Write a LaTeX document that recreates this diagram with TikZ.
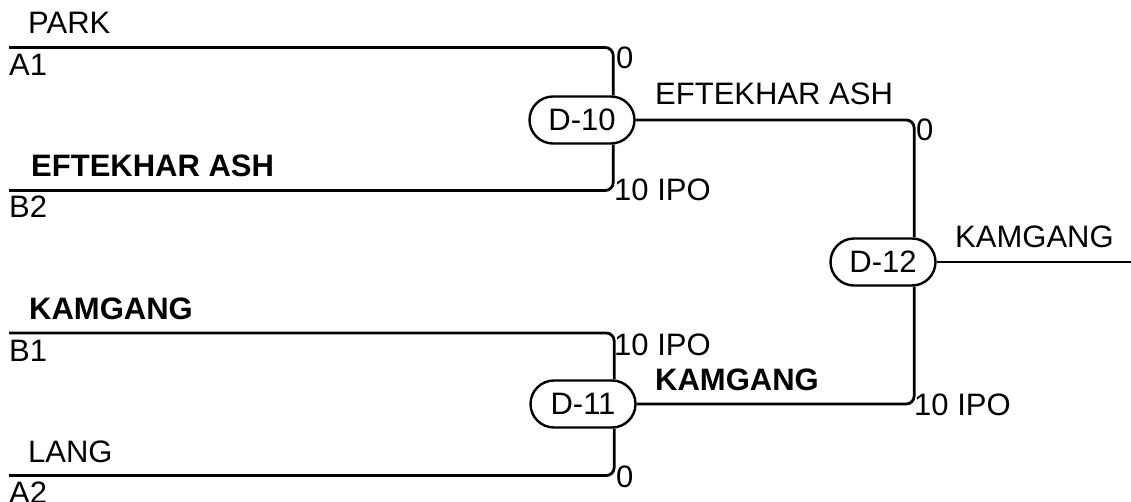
\documentclass[tikz,border=0pt]{standalone}
\usepackage{fontspec}
\setmainfont{Liberation Sans}
\usetikzlibrary{calc}
\begin{document}
\begin{tikzpicture}[x=1pt,y=-1pt,
  wire/.style={line width=2.8pt,rounded corners=8pt},
  match/.style={draw,line width=2.4pt,rounded corners=23.5pt,minimum width=105pt,minimum height=47pt,inner sep=0pt,font=\fontsize{31}{31}\selectfont,fill=white},
  lbl/.style={anchor=base west,inner sep=0pt,font=\fontsize{31}{31}\selectfont},
  blbl/.style={lbl,font=\fontsize{31}{31}\selectfont\bfseries}]
\path[use as bounding box] (0,0) rectangle (1131,502);
% matches
\node[match] (D10) at (582,120) {D-10};
\node[match] (D12) at (883,262) {D-12};
\node[match] (D11) at (583,404) {D-11};
% attachment coordinates
\coordinate (d10t) at ($(D10.north east)+(-22.5,0)$);
\coordinate (d10b) at ($(D10.south east)+(-22.5,0)$);
\coordinate (d11t) at ($(D11.north east)+(-22.5,0)$);
\coordinate (d11b) at ($(D11.south east)+(-22.5,0)$);
\coordinate (d12t) at ($(D12.north east)+(-22.5,0)$);
\coordinate (d12b) at ($(D12.south east)+(-22.5,0)$);
% line starts
\coordinate (a1) at (9,47.5);
\coordinate (b2) at (9,190.5);
\coordinate (b1) at (9,333);
\coordinate (a2) at (9,475.5);
\coordinate (win) at (1131,262);
% connectors
\draw[wire] (a1) -- (a1 -| d10t) -- (d10t);
\draw[wire] (b2) -- (b2 -| d10b) -- (d10b);
\draw[wire] (b1) -- (b1 -| d11t) -- (d11t);
\draw[wire] (a2) -- (a2 -| d11b) -- (d11b);
\draw[wire] (D10.east) -- (D10.east -| d12t) -- (d12t);
\draw[wire] (D11.east) -- (D11.east -| d12b) -- (d12b);
\draw[wire] (D12.east) -- (win);
% left labels
\node[lbl] (tPark) at (28,34) {PARK};
\node[lbl] (tA1) at (9,76) {A1};
\node[blbl] (tEft) at (31,177) {EFTEKHAR ASH};
\node[lbl] (tB2) at (9,218) {B2};
\node[blbl] (tKam) at (29,319) {KAMGANG};
\node[lbl] (tB1) at (9,361) {B1};
\node[lbl] (tLang) at (28,462) {LANG};
\node[lbl] (tA2) at (9,503) {A2};
% score labels
\node[lbl] (s1) at (616,69) {0};
\node[lbl] (s2) at (614,201) {10 IPO};
\node[lbl] (s3) at (614,355) {10 IPO};
\node[lbl] (s4) at (616,487) {0};
\node[lbl] (s5) at (916,141) {0};
\node[lbl] (s6) at (914,415) {10 IPO};
% winner labels
\node[lbl] (w1) at (655,105) {EFTEKHAR ASH};
\node[blbl] (w2) at (655,390) {KAMGANG};
\node[lbl] (w3) at (955,248) {KAMGANG};
\end{tikzpicture}
\end{document}
